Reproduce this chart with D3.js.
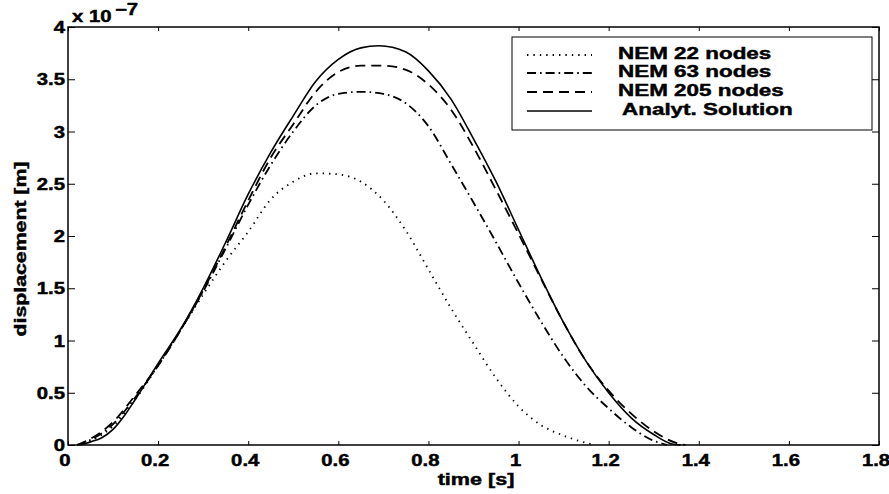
<!DOCTYPE html>
<html>
<head>
<meta charset="utf-8">
<script src="https://cdn.jsdelivr.net/npm/d3@7"></script>
<style>
  body { margin: 0; background: #fff; }
  svg text { font-family: "Liberation Sans", Arial, Helvetica, sans-serif; font-weight: bold; fill: #000; stroke: #000; stroke-width: 0.45px; }
</style>
</head>
<body>
<div id="chart"></div>
<script>
// dados (deslocamento em 1e-7 m)
const xTicks = [0, 0.2, 0.4, 0.6, 0.8, 1, 1.2, 1.4, 1.6, 1.8];
const yTicks = [0, 0.5, 1, 1.5, 2, 2.5, 3, 3.5, 4];

const time22 = [0.02, 0.05, 0.1, 0.15, 0.2, 0.25, 0.3, 0.35, 0.4, 0.45, 0.5, 0.55, 0.6, 0.65, 0.7, 0.75, 0.8, 0.85, 0.9, 0.95, 1.0, 1.05, 1.1, 1.15, 1.17];
const disp22 = [0, 0.04, 0.18, 0.44, 0.76, 1.1, 1.44, 1.76, 2.04, 2.35, 2.52, 2.6, 2.59, 2.52, 2.34, 2.05, 1.68, 1.31, 0.97, 0.64, 0.37, 0.19, 0.09, 0.02, 0];

const time63 = [0.02, 0.05, 0.1, 0.15, 0.2, 0.25, 0.3, 0.35, 0.4, 0.45, 0.5, 0.55, 0.6, 0.65, 0.7, 0.75, 0.8, 0.85, 0.9, 0.95, 1.0, 1.05, 1.1, 1.15, 1.2, 1.25, 1.3, 1.33];
const disp63 = [0, 0.05, 0.2, 0.46, 0.76, 1.1, 1.47, 1.88, 2.3, 2.68, 3.0, 3.25, 3.36, 3.38, 3.36, 3.27, 3.05, 2.69, 2.32, 1.94, 1.55, 1.18, 0.84, 0.56, 0.35, 0.17, 0.04, 0];

const time205 = [0.02, 0.05, 0.1, 0.15, 0.2, 0.25, 0.3, 0.35, 0.4, 0.45, 0.5, 0.55, 0.6, 0.65, 0.7, 0.75, 0.8, 0.85, 0.9, 0.95, 1.0, 1.05, 1.1, 1.15, 1.2, 1.25, 1.3, 1.35, 1.37];
const disp205 = [0, 0.06, 0.22, 0.48, 0.76, 1.1, 1.48, 1.9, 2.34, 2.75, 3.07, 3.38, 3.57, 3.63, 3.63, 3.59, 3.45, 3.21, 2.85, 2.44, 2.02, 1.59, 1.17, 0.8, 0.52, 0.3, 0.13, 0.02, 0];

const timeExact = [0.025, 0.05, 0.075, 0.1, 0.125, 0.15, 0.2, 0.25, 0.3, 0.35, 0.4, 0.45, 0.5, 0.55, 0.6, 0.65, 0.69, 0.75, 0.8, 0.85, 0.9, 0.95, 1.0, 1.05, 1.1, 1.15, 1.2, 1.25, 1.3, 1.34, 1.36];
const dispExact = [0, 0.03, 0.07, 0.15, 0.28, 0.44, 0.78, 1.11, 1.5, 1.94, 2.4, 2.8, 3.15, 3.48, 3.69, 3.8, 3.82, 3.76, 3.58, 3.31, 2.93, 2.52, 2.06, 1.6, 1.17, 0.8, 0.5, 0.26, 0.1, 0.01, 0];

const seriesNames = ["NEM 22 nodes", "NEM 63 nodes", "NEM 205 nodes", "Analyt. Solution"];

const width = 889;
const height = 494;
const stretch = 1.27; // a fonte original é bem mais larga

const svg = d3.select("#chart")
  .append("svg")
  .attr("width", width)
  .attr("height", height);

svg.append("rect").attr("width", width).attr("height", height).attr("fill", "#fff");

const x = d3.scaleLinear().domain([0, 1.8]).range([68, 879]);
const y = d3.scaleLinear().domain([0, 4]).range([445, 27]);

// texto com escala horizontal
function label(g, px, py, str, size, anchor, extra, sx) {
  return g.append("text")
    .attr("transform", `translate(${px},${py}) ${extra || ""} scale(${sx || stretch},1)`)
    .attr("text-anchor", anchor || "start")
    .style("font-size", size + "px")
    .text(str);
}

// eixos
const axisX = d3.axisBottom(x).tickValues(xTicks).tickSize(-4).tickFormat("");
const axisXTop = d3.axisTop(x).tickValues(xTicks).tickSize(-4).tickFormat("");
const axisY = d3.axisLeft(y).tickValues(yTicks).tickSize(-7).tickFormat("");
const axisYRight = d3.axisRight(y).tickValues(yTicks).tickSize(-7).tickFormat("");

svg.append("g").attr("transform", `translate(0,${y(0)})`).call(axisX);
svg.append("g").attr("transform", `translate(0,${y(4)})`).call(axisXTop);
svg.append("g").attr("transform", `translate(${x(0)},0)`).call(axisY);
svg.append("g").attr("transform", `translate(${x(1.8)},0)`).call(axisYRight);
svg.selectAll(".domain").remove();
svg.selectAll(".tick line").attr("stroke", "#000").attr("stroke-width", 1);

svg.append("rect")
  .attr("x", x(0)).attr("y", y(4))
  .attr("width", x(1.8) - x(0)).attr("height", y(0) - y(4))
  .attr("fill", "none").attr("stroke", "#000").attr("stroke-width", 1.5);

// rótulos dos ticks
const tickLabels = svg.append("g");
xTicks.forEach(t => label(tickLabels, x(t) - 3, 466, d3.format("~g")(t), 16, "middle"));
yTicks.forEach(v => label(tickLabels, 65, y(v) + 6, d3.format("~g")(v), 16, "end"));

label(svg, 72, 22, "x 10", 16);
label(svg, 115, 15, "\u22127", 16);

label(svg, 476, 485, "time [s]", 17, "middle");
label(svg, 26, 249, "displacement [m]", 16, "middle", "rotate(-90)", 1.33);

// curvas
const line = d3.line()
  .x(d => x(d[0]))
  .y(d => y(d[1]))
  .curve(d3.curveMonotoneX);

const styles = [
  { t: time22, v: disp22, dash: "1.4,5", width: 1.8 },
  { t: time63, v: disp63, dash: "9,4,1.6,4", width: 1.8 },
  { t: time205, v: disp205, dash: "10,6", width: 1.8 },
  { t: timeExact, v: dispExact, dash: null, width: 1.6 }
];

const curves = svg.append("g");
styles.forEach(s => {
  curves.append("path")
    .datum(s.t.map((t, i) => [t, s.v[i]]))
    .attr("fill", "none")
    .attr("stroke", "#000")
    .attr("stroke-width", s.width)
    .attr("stroke-dasharray", s.dash)
    .attr("d", line);
});

// legenda
const legend = svg.append("g");
legend.append("rect")
  .attr("x", 512).attr("y", 37)
  .attr("width", 360).attr("height", 93)
  .attr("fill", "#fff").attr("stroke", "#000").attr("stroke-width", 1);

const rowY = [55, 73, 92, 111];
seriesNames.forEach((name, i) => {
  legend.append("line")
    .attr("x1", 527).attr("x2", 592)
    .attr("y1", rowY[i]).attr("y2", rowY[i])
    .attr("stroke", "#000")
    .attr("stroke-width", styles[i].width)
    .attr("stroke-dasharray", styles[i].dash);
  label(legend, i === 3 ? 622 : 618, rowY[i] + 4, name, 16.5, "start", "", 1.36);
});
</script>
</body>
</html>
